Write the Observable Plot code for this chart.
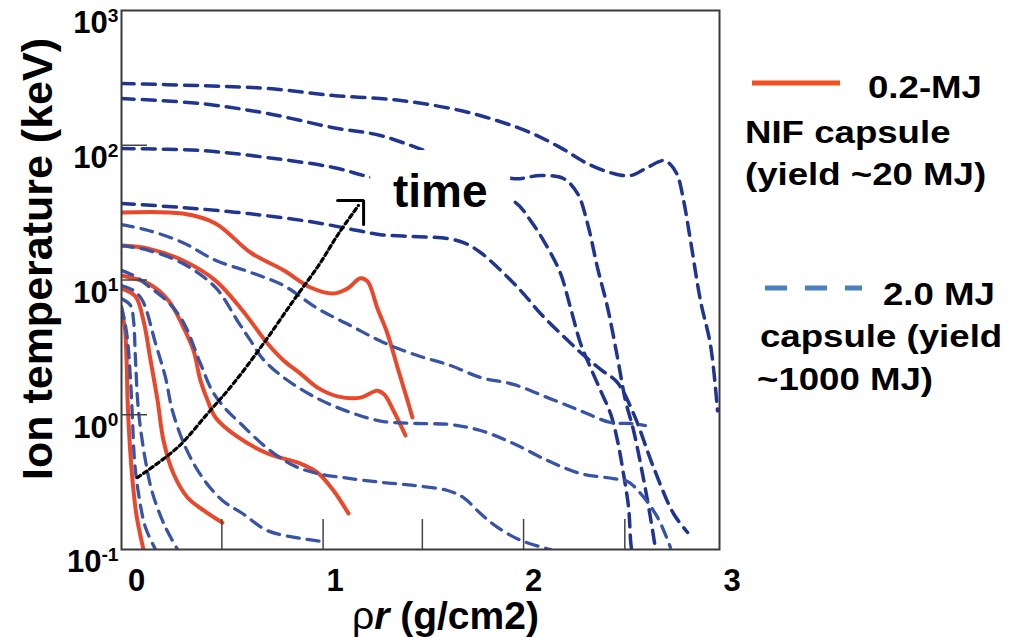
<!DOCTYPE html>
<html><head><meta charset="utf-8">
<script src="https://cdn.jsdelivr.net/npm/d3@7"></script>
<script src="https://cdn.jsdelivr.net/npm/@observablehq/plot@0.6"></script>
<style>
body{margin:0;background:#fff;}
#wrap{position:relative;width:1022px;height:637px;font-family:"Liberation Sans",Arial,Helvetica,sans-serif;}
#wrap svg{position:absolute;left:0;top:0;}
</style></head><body><div id="wrap"></div>
<script>
// ---- 0.2-MJ NIF capsule (red, solid): [rho*r (g/cm2), ion temperature (keV)]
const nif1 = [[-0.076,31.7],[0.232,31.1],[0.398,26.3],[0.574,16.0],[0.741,11.8],[0.877,8.8],[0.992,7.94],[1.063,8.65],[1.128,10.3],[1.164,9.75],[1.214,6.14],[1.264,4.01],[1.315,2.24],[1.365,1.28],[1.390,0.955]];
const nif2 = [[-0.076,18.0],[0.060,17.1],[0.232,14.0],[0.398,9.9],[0.534,5.94],[0.660,3.38],[0.741,2.53],[0.826,2.02],[0.912,1.59],[1.013,1.37],[1.128,1.34],[1.214,1.51],[1.249,1.41],[1.295,1.07],[1.355,0.702]];
const nif3 = [[-0.076,10.8],[0.060,9.4],[0.161,7.05],[0.232,4.59],[0.287,3.0],[0.322,1.80],[0.358,1.28],[0.398,0.955],[0.499,0.702],[0.660,0.516],[0.826,0.434],[0.912,0.372],[0.992,0.274],[1.068,0.185]];
const nif4 = [[-0.076,8.65],[-0.005,7.54],[0.035,5.0],[0.071,2.53],[0.106,1.28],[0.136,0.644],[0.186,0.366],[0.257,0.243],[0.338,0.195],[0.433,0.158]];
const nif5 = [[-0.076,5.74],[-0.060,4.59],[-0.050,2.53],[-0.045,1.28],[-0.035,0.644],[-0.020,0.325],[0,0.179],[0.035,0.1]];

// ---- 2.0-MJ capsule (blue, dashed)
const cap1 = [[-0.076,287],[0.322,277],[0.660,264],[0.992,234],[1.330,215],[1.632,181],[1.819,152],[1.985,124],[2.136,96],[2.272,73],[2.403,61.7],[2.489,59.6],[2.574,68.4],[2.655,77],[2.690,72],[2.725,60],[2.756,39],[2.791,19.6],[2.841,7.05],[2.892,3.27],[2.927,1.07]];
const cap2 = [[-0.076,222],[0.322,204],[0.660,172],[0.992,135],[1.229,118],[1.521,84],[1.894,56.6],[2.035,59.6],[2.151,56.6],[2.222,43.8],[2.272,26.3],[2.322,12.4],[2.373,6.25],[2.423,2.66],[2.463,1.28],[2.504,0.764],[2.549,0.366],[2.589,0.173],[2.615,0.1]];
const cap3 = [[-0.076,94.6],[0.322,91.4],[0.660,81],[0.992,68.4],[1.189,57.6],[1.55,48],[1.894,38.9],[1.985,27.6],[2.071,17.4],[2.136,11.2],[2.186,6.25],[2.237,3.38],[2.287,2.24],[2.338,1.51],[2.388,1.02],[2.423,0.644],[2.453,0.366],[2.479,0.205],[2.489,0.117],[2.494,0.1]];
const cap4 = [[-0.076,37.0],[0.232,34.5],[0.564,31.1],[0.902,26.7],[1.139,22.9],[1.229,21.7],[1.395,21.0],[1.567,20.3],[1.657,18.7],[1.733,16.0],[1.819,12.4],[1.935,8.36],[2.035,5.64],[2.136,4.01],[2.237,2.90],[2.338,2.17],[2.423,1.73],[2.504,1.02],[2.605,0.406],[2.705,0.185],[2.776,0.134]];
const cap5 = [[-0.076,25.8],[0.060,23.3],[0.232,19.0],[0.398,14.0],[0.574,11.4],[0.741,9.1],[0.912,6.14],[1.078,4.59],[1.244,3.44],[1.416,2.75],[1.582,2.32],[1.733,1.89],[1.899,1.68],[2.071,1.34],[2.237,1.07],[2.388,0.876],[2.489,0.861],[2.564,0.832]];
const cap6 = [[-0.076,18.0],[0.060,16.6],[0.232,13.3],[0.398,8.8],[0.514,4.83],[0.574,3.56],[0.635,2.61],[0.741,1.89],[0.912,1.32],[1.078,1.04],[1.244,0.891],[1.416,0.861],[1.582,0.846],[1.733,0.764],[1.899,0.612],[2.071,0.457],[2.237,0.366],[2.403,0.336],[2.474,0.320],[2.539,0.261],[2.625,0.173],[2.690,0.1035]];
const cap7 = [[-0.076,11.8],[-0.005,10.6],[0.060,9.0],[0.161,6.81],[0.237,4.83],[0.322,2.4],[0.383,1.49],[0.443,1.13],[0.524,0.861],[0.660,0.562],[0.791,0.420],[0.912,0.366],[1.078,0.336],[1.244,0.314],[1.395,0.299],[1.567,0.274],[1.647,0.243],[1.733,0.185],[1.819,0.146],[1.935,0.117],[2.086,0.1]];
const cap8 = [[-0.076,9.1],[-0.015,8.36],[0.030,7.05],[0.096,3.38],[0.146,1.89],[0.181,1.07],[0.247,0.572],[0.332,0.342],[0.433,0.231],[0.534,0.185],[0.660,0.138],[0.826,0.121],[0.927,0.115]];
const cap9 = [[-0.076,7.29],[-0.030,6.47],[-0.015,5.0],[-0.005,2.53],[0.010,1.07],[0.045,0.457],[0.081,0.261],[0.146,0.146],[0.207,0.1]];
const cap10 = [[-0.076,6.36],[-0.060,5.0],[-0.045,3.56],[-0.030,1.80],[-0.020,0.906],[-0.010,0.457],[0.010,0.261],[0.045,0.146],[0.096,0.1]];

// ---- axes / annotations
const yTickValues = [0.1, 1, 10, 100, 1000];
const yInnerTicks = [1, 10, 100];
const xTickLabels = [0, 1, 2, 3];
const xInnerTicks = [0.43, 0.94, 1.44, 1.95, 2.46];
const timeBox = [{x1: 1.18, x2: 1.885, y1: 28.6, y2: 91.4}];
const timeNote = [{x: 1.53, y: 44.6, label: "time"}];
const arrowPath = [[0.005,0.342],[0.207,0.572],[0.358,1.02],[0.489,1.71],[0.640,3.38],[0.791,7.05],[0.917,12.8],[1.018,22.1],[1.118,35.7]];
const arrowHead = [[1.013, 38.9], [1.144, 38.9], [1.144, 25.8]];
const legendNif = ["0.2-MJ", "NIF capsule", "(yield ~20 MJ)"];
const legendCap = ["2.0 MJ", "capsule (yield", "~1000 MJ)"];

function toRows(list, prefix) {
  const rows = [];
  list.forEach((pts, i) => pts.forEach(([x, y]) => rows.push({id: prefix + i, x, y})));
  return rows;
}
const nifRows = toRows([nif1, nif2, nif3, nif4, nif5], "n");
const capDarkRows = toRows([cap1, cap2, cap3, cap4], "d");
const capLightRows = toRows([cap5, cap6, cap7, cap8, cap9, cap10], "l");

const FONT = '"Liberation Sans", Arial, Helvetica, sans-serif';
const RED = "#e9482b";

const chart = Plot.plot({
  width: 1022, height: 637,
  marginLeft: 121, marginRight: 303, marginTop: 10, marginBottom: 88,
  style: {fontFamily: FONT, background: "transparent", color: "black"},
  x: {domain: [-0.0756, 2.937]},
  y: {type: "log", domain: [0.1, 1000]},
  marks: [
    Plot.line(nifRows, {x: "x", y: "y", z: "id", stroke: RED, strokeWidth: 4, curve: "catmull-rom", clip: true}),
    Plot.line(capDarkRows, {x: "x", y: "y", z: "id", stroke: "#1f3590", strokeWidth: 3.5, strokeDasharray: "13,8", curve: "catmull-rom", clip: true}),
    Plot.line(capLightRows, {x: "x", y: "y", z: "id", stroke: "#3854a6", strokeWidth: 3.3, strokeDasharray: "12,8", curve: "catmull-rom", clip: true}),
    Plot.rect(timeBox, {x1: "x1", x2: "x2", y1: "y1", y2: "y2", fill: "white"}),
    Plot.text(timeNote, {x: "x", y: "y", text: "label", fontSize: 46, fontWeight: "bold", fill: "black"}),
    Plot.line(arrowPath, {x: d => d[0], y: d => d[1], curve: "catmull-rom", stroke: "black", strokeWidth: 3.2, strokeDasharray: "4,3.5"}),
    Plot.line(arrowHead, {x: d => d[0], y: d => d[1], stroke: "black", strokeWidth: 3, strokeLinejoin: "miter"}),
    Plot.frame({stroke: "#3a3a3a", strokeWidth: 2}),
    Plot.axisY(yInnerTicks, {tickSize: -26, tickFormat: () => "", stroke: "#444", strokeWidth: 1.5, label: null}),
    Plot.axisY(yTickValues, {tickSize: 0, tickPadding: 3, dy: 13, fontSize: 31, fontWeight: "bold", tickFormat: d => String(Math.round(Math.log10(d))), label: null}),
    Plot.axisX(xInnerTicks, {tickSize: -30, tickFormat: () => "", stroke: "#444", strokeWidth: 1.5, label: null}),
    Plot.axisX(xTickLabels, {tickSize: 0, tickPadding: 19, fontSize: 31, fontWeight: "bold", tickFormat: d => String(d), label: null}),
    Plot.text(["Ion temperature (keV)"], {frameAnchor: "left", textAnchor: "middle", rotate: -90, dx: -83, dy: -21, fontSize: 43, fontWeight: "bold", fill: "black"})
  ]
});

// superscript exponents on y tick labels (drop the empty inner-tick labels)
d3.select(chart).selectAll('g[aria-label="y-axis tick label"] text').each(function () {
  const t = d3.select(this);
  const e = t.text();
  if (e === "") { t.remove(); return; }
  t.text("");
  t.append("tspan").text("10");
  t.append("tspan").attr("dy", "-0.6em").attr("font-size", "0.62em").text(e);
});
d3.select(chart).selectAll('g[aria-label="x-axis tick label"] text').each(function () {
  if (d3.select(this).text() === "") d3.select(this).remove();
});

const wrap = document.getElementById("wrap");
wrap.appendChild(chart);

// overlay: legend + x-axis title
const ov = d3.select(wrap).append("svg").attr("width", 1022).attr("height", 637)
  .style("font-family", FONT).style("font-weight", "bold");

ov.append("line").attr("x1", 752).attr("x2", 840).attr("y1", 83).attr("y2", 83)
  .attr("stroke", "#f4511e").attr("stroke-width", 5);
ov.append("line").attr("x1", 765).attr("x2", 862).attr("y1", 288).attr("y2", 288)
  .attr("stroke", "#4a7fc0").attr("stroke-width", 5).attr("stroke-dasharray", "22,18");

const nifPos = [[868, 98], [745, 143], [745, 185]];
const capPos = [[883, 305], [760, 347], [757, 390]];
legendNif.forEach((s, i) => ov.append("text").attr("transform", `translate(${nifPos[i][0]},${nifPos[i][1]}) scale(1.145,1)`).attr("font-size", 32).text(s));
legendCap.forEach((s, i) => ov.append("text").attr("transform", `translate(${capPos[i][0]},${capPos[i][1]}) scale(1.145,1)`).attr("font-size", 32).text(s));

const xl = ov.append("text").attr("x", 352).attr("y", 629).attr("font-size", 39);
xl.append("tspan").attr("font-weight", "normal").text("ρ");
xl.append("tspan").attr("font-style", "italic").text("r");
xl.append("tspan").text(" (g/cm2)");
</script></body></html>
